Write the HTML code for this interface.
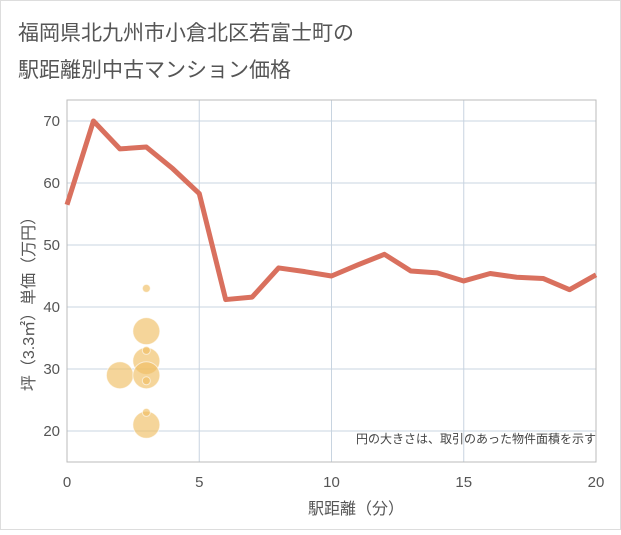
<!DOCTYPE html>
<html><head><meta charset="utf-8"><style>
body{margin:0;background:#fff;font-family:"Liberation Sans","Noto Sans CJK JP",sans-serif}
</style></head><body>
<svg width="621" height="530" xmlns="http://www.w3.org/2000/svg">
<rect x="0.5" y="0.5" width="620" height="529" fill="#fff" stroke="#ddd"/>
<text x="18" y="40" font-size="21" fill="#555" font-family="Liberation Sans,Noto Sans CJK JP,sans-serif">福岡県北九州市小倉北区若富士町の</text>
<text x="18" y="77" font-size="21" fill="#555" font-family="Liberation Sans,Noto Sans CJK JP,sans-serif">駅距離別中古マンション価格</text>
<g id="grid"></g>
<rect x="67" y="100" width="529" height="362" fill="none" stroke="#bbb"/>
<g id="bubbles"></g>
<g id="line"></g>
<g id="axes"></g>
<text x="596" y="443" font-size="12" fill="#444" text-anchor="end" font-family="Liberation Sans,Noto Sans CJK JP,sans-serif">円の大きさは、取引のあった物件面積を示す</text>
<text x="356" y="514" font-size="16" fill="#555" text-anchor="middle" font-family="Liberation Sans,Noto Sans CJK JP,sans-serif">駅距離（分）</text>
<text transform="translate(34,300) rotate(-90)" font-size="16" fill="#555" text-anchor="middle" font-family="Liberation Sans,Noto Sans CJK JP,sans-serif">坪（3.3㎡）単価（万円）</text>
</svg>
<script>
const lineX=[0,1,2,3,4,5,6,7,8,9,10,11,12,13,14,15,16,17,18,19,20];
const lineY=[56.5,70,65.5,65.8,62.3,58.3,41.2,41.6,46.3,45.7,45.0,46.8,48.5,45.8,45.5,44.2,45.4,44.8,44.6,42.8,45.2];
const bubX=[2,3,3,3,3,3,3,3,3];
const bubY=[29,36.1,31.3,29,21,43,33,28.1,23];
const bubR=[13.5,13.5,13.5,13.5,13.5,4,4,4,4];
const xTicks=[0,5,10,15,20];
const yTicks=[20,30,40,50,60,70];
const NS="http://www.w3.org/2000/svg";
const sx=v=>67+v*(529/20);
const sy=v=>431-(v-20)*6.2;
function mk(t,a,p){const e=document.createElementNS(NS,t);for(const k in a)e.setAttribute(k,a[k]);document.getElementById(p).appendChild(e);return e;}
xTicks.forEach(t=>{
 if(t>0&&t<20){const g=mk('line',{x1:sx(t),x2:sx(t),y1:100,y2:462,stroke:'#c8d4e0'},'grid');
 
 }
 const l=mk('text',{x:sx(t),y:487,'font-size':15,fill:'#555','text-anchor':'middle'},'axes');l.textContent=t;
 
 
});
yTicks.forEach(t=>{
 const g=mk('line',{x1:67,x2:596,y1:sy(t),y2:sy(t),stroke:'#c8d4e0'},'grid');
 
 
 const l=mk('text',{x:60,y:sy(t)+5,'font-size':15,fill:'#555','text-anchor':'end'},'axes');l.textContent=t;
 
 
});
bubX.forEach((x,i)=>{
 const c=mk('circle',{cx:sx(x),cy:sy(bubY[i]),r:bubR[i],fill:'rgba(240,190,100,0.65)',stroke:'rgba(255,255,255,0.6)'},'bubbles');
 
 
});
const p=mk('polyline',{points:lineX.map((x,i)=>sx(x)+','+sy(lineY[i])).join(' '),fill:'none',stroke:'#d9705e','stroke-width':5,'stroke-linejoin':'round'},'line');


</script>
</body></html>
